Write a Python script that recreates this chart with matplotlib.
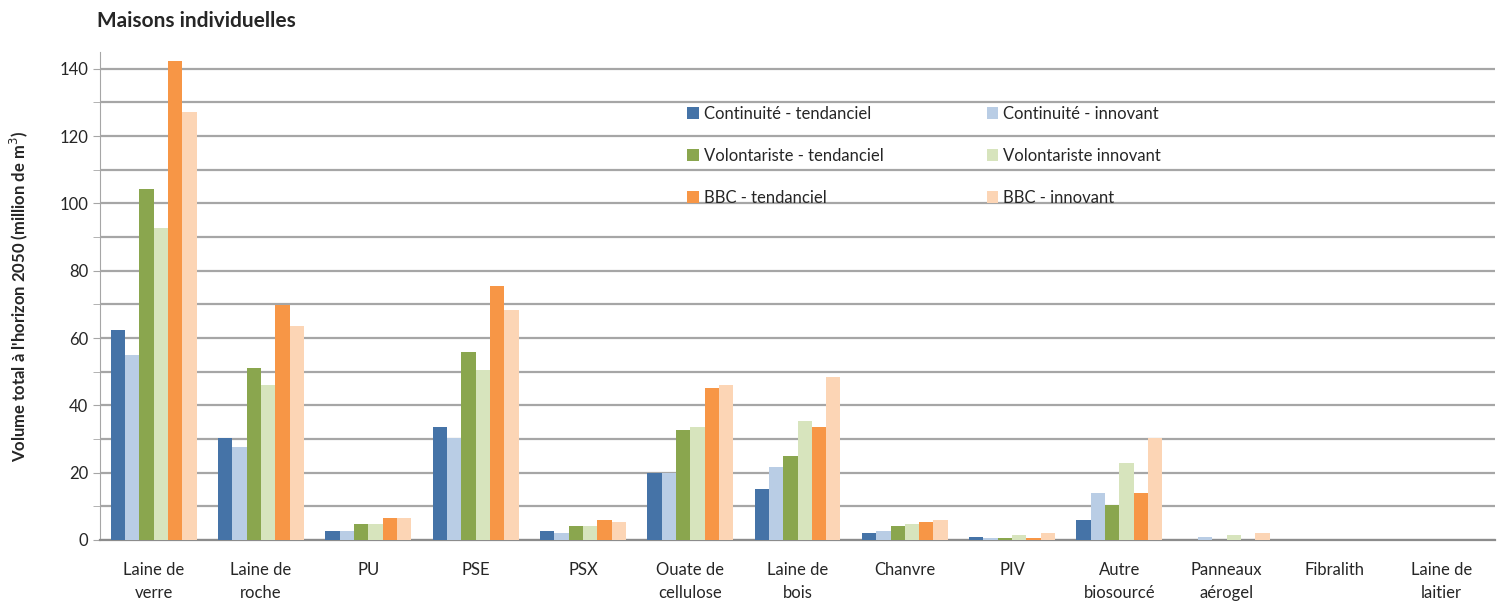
import matplotlib.pyplot as plt
import numpy as np
from matplotlib.ticker import MultipleLocator

plt.rcParams['font.family'] = ['Lato', 'DejaVu Sans']

# Data
categories = ["Laine de\nverre", "Laine de\nroche", "PU", "PSE", "PSX", "Ouate de\ncellulose",
              "Laine de\nbois", "Chanvre", "PIV", "Autre\nbiosourcé", "Panneaux\naérogel",
              "Fibralith", "Laine de\nlaitier"]

cont_tend = [62.3, 30.3, 2.7, 33.6, 2.7, 20.0, 15.1, 2.0, 0.8, 6.0, 0.0, 0, 0]
cont_innov = [55.0, 27.6, 2.7, 30.2, 2.0, 20.0, 21.7, 2.7, 0.6, 13.8, 0.9, 0, 0]
vol_tend = [104.3, 51.2, 4.7, 55.8, 4.0, 32.8, 24.8, 4.0, 0.7, 10.5, 0.0, 0, 0]
vol_innov = [92.6, 46.0, 4.7, 50.6, 4.0, 33.5, 35.4, 4.7, 1.4, 23.0, 1.4, 0, 0]
bbc_tend = [142.4, 69.7, 6.6, 75.5, 6.0, 45.0, 33.5, 5.3, 0.7, 13.8, 0.0, 0, 0]
bbc_innov = [127.3, 63.7, 6.6, 68.3, 5.3, 46.0, 48.3, 6.0, 2.0, 30.2, 2.0, 0, 0]

series = [
    (cont_tend, "Continuité - tendanciel", "#4573a7"),
    (cont_innov, "Continuité - innovant", "#b9cde5"),
    (vol_tend, "Volontariste - tendanciel", "#8aa64e"),
    (vol_innov, "Volontariste innovant", "#d7e4bd"),
    (bbc_tend, "BBC - tendanciel", "#f79646"),
    (bbc_innov, "BBC - innovant", "#fcd5b5"),
]

fig = plt.figure(figsize=(15.09, 6.08), dpi=100)
ax = fig.add_axes([0.0663, 0.112, 0.9244, 0.8025])

x = np.arange(len(categories))
w = 0.8 / 6
bars = []
for i, (vals, lab, col) in enumerate(series):
    bars.append(ax.bar(x - 0.4 + w * (i + 0.5), vals, width=w, color=col, label=lab, zorder=3))

ax.set_xlim(-0.5, len(categories) - 0.5)
ax.set_ylim(0, 145)
ax.yaxis.set_major_locator(MultipleLocator(20))
ax.yaxis.set_minor_locator(MultipleLocator(10))
ax.grid(axis='y', which='both', color='#a6a6a6', linewidth=1.6, zorder=0)
ax.set_axisbelow(True)

for s in ['top', 'right']:
    ax.spines[s].set_visible(False)
ax.spines['left'].set_color('#a6a6a6')
ax.spines['bottom'].set_color('#8c8c8c')
ax.spines['bottom'].set_linewidth(1.6)

ax.set_xticks(x)
ax.set_xticklabels(categories, fontsize=12, color='#262626', linespacing=1.5)
ax.tick_params(axis='x', length=0, pad=16)
ax.tick_params(axis='y', which='both', length=5, color='#a6a6a6', labelsize=12, labelcolor='#262626')

ax.set_ylabel("Volume total à l'horizon 2050 (million de m$^3$)", fontsize=12, fontweight='bold',
              color='#262626')
ax.yaxis.set_label_coords(-0.05, 0.5)

fig.text(0.064, 0.965, "Maisons individuelles", fontsize=15, fontweight='bold', color='#262626',
         va='center')

# legend filled row by row
order = [0, 2, 4, 1, 3, 5]
leg = ax.legend([bars[i] for i in order], [series[i][1] for i in order],
                ncol=2, loc='upper left', bbox_to_anchor=(0.41, 0.92), frameon=False,
                fontsize=12, handlelength=0.7, handleheight=0.7, handletextpad=0.3,
                labelspacing=1.55, columnspacing=6.2)
for t in leg.get_texts():
    t.set_color('#262626')

fig.savefig("out.png", dpi=100)
